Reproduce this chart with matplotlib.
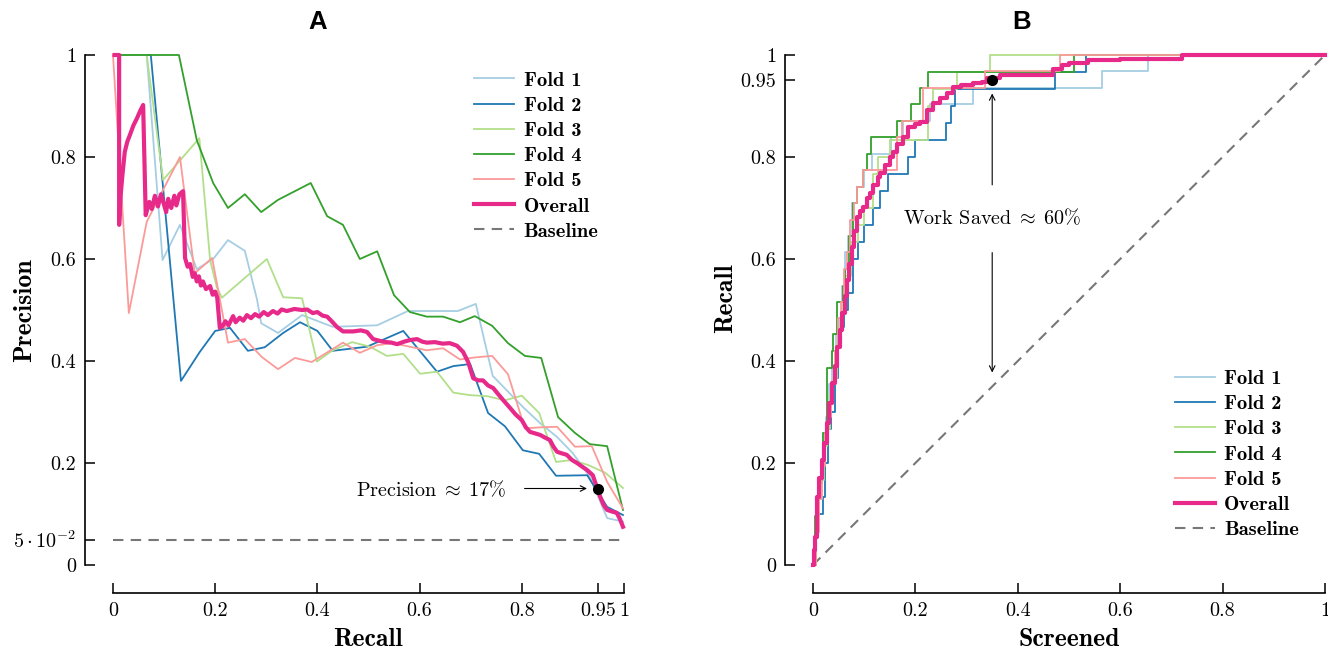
import matplotlib
matplotlib.use("Agg")
import matplotlib.pyplot as plt
from matplotlib.font_manager import FontProperties

plt.rcParams['font.family'] = 'cmr10'
plt.rcParams['mathtext.fontset'] = 'cm'
plt.rcParams['axes.unicode_minus'] = False

# ---- panel A: precision / recall per fold ----
fold1_a_r = [0.01, 0.066, 0.097, 0.131, 0.164, 0.196, 0.225, 0.258, 0.282, 0.29, 0.323, 0.37, 0.43, 0.517, 0.577, 0.675, 0.71, 0.743, 0.773, 0.802, 0.836, 0.869, 0.90, 0.933, 0.967, 0.998]
fold1_a_p = [1.0, 1.0, 0.598, 0.667, 0.58, 0.60, 0.637, 0.616, 0.52, 0.474, 0.455, 0.49, 0.467, 0.47, 0.498, 0.498, 0.512, 0.371, 0.34, 0.31, 0.278, 0.251, 0.219, 0.173, 0.092, 0.085]

fold2_a_r = [0.01, 0.074, 0.133, 0.17, 0.2, 0.229, 0.264, 0.297, 0.333, 0.366, 0.4, 0.43, 0.497, 0.568, 0.634, 0.666, 0.699, 0.734, 0.767, 0.802, 0.834, 0.867, 0.928, 0.967, 0.998]
fold2_a_p = [1.0, 1.0, 0.361, 0.418, 0.459, 0.465, 0.42, 0.427, 0.455, 0.476, 0.459, 0.42, 0.428, 0.459, 0.379, 0.39, 0.394, 0.298, 0.272, 0.225, 0.218, 0.175, 0.176, 0.114, 0.098]

fold3_a_r = [0.01, 0.066, 0.098, 0.169, 0.19, 0.203, 0.213, 0.301, 0.333, 0.37, 0.399, 0.43, 0.468, 0.503, 0.536, 0.568, 0.601, 0.634, 0.666, 0.699, 0.732, 0.767, 0.80, 0.834, 0.867, 0.898, 0.93, 0.963, 0.998]
fold3_a_p = [1.0, 1.0, 0.755, 0.837, 0.598, 0.545, 0.524, 0.60, 0.525, 0.523, 0.399, 0.421, 0.437, 0.428, 0.41, 0.414, 0.375, 0.379, 0.338, 0.333, 0.331, 0.323, 0.332, 0.298, 0.202, 0.206, 0.196, 0.181, 0.151]

fold4_a_r = [0.01, 0.129, 0.164, 0.196, 0.225, 0.258, 0.290, 0.323, 0.387, 0.419, 0.450, 0.483, 0.517, 0.550, 0.581, 0.614, 0.646, 0.679, 0.708, 0.742, 0.773, 0.806, 0.838, 0.871, 0.904, 0.933, 0.967, 0.998]
fold4_a_p = [1.0, 1.0, 0.833, 0.749, 0.70, 0.727, 0.692, 0.716, 0.749, 0.684, 0.667, 0.60, 0.615, 0.529, 0.496, 0.487, 0.487, 0.476, 0.488, 0.469, 0.435, 0.41, 0.406, 0.29, 0.259, 0.237, 0.233, 0.108]

fold5_a_r = [0.0, 0.031, 0.066, 0.131, 0.16, 0.194, 0.225, 0.258, 0.291, 0.323, 0.356, 0.389, 0.421, 0.45, 0.483, 0.517, 0.548, 0.581, 0.614, 0.646, 0.679, 0.708, 0.742, 0.773, 0.806, 0.838, 0.869, 0.904, 0.937, 0.967, 0.998]
fold5_a_p = [1.0, 0.494, 0.673, 0.80, 0.572, 0.602, 0.436, 0.443, 0.408, 0.384, 0.406, 0.398, 0.418, 0.436, 0.416, 0.431, 0.435, 0.428, 0.421, 0.425, 0.403, 0.407, 0.41, 0.374, 0.268, 0.27, 0.271, 0.232, 0.233, 0.163, 0.111]

overall_a_r = [0.003, 0.012, 0.012, 0.015, 0.018, 0.023, 0.028, 0.033, 0.040, 0.047, 0.053, 0.059, 0.064, 0.071, 0.076,
               0.082, 0.088, 0.094, 0.100, 0.104, 0.108, 0.114, 0.120, 0.124, 0.130, 0.137, 0.141, 0.146, 0.151, 0.156,
               0.160, 0.164, 0.168, 0.172, 0.176, 0.182, 0.190, 0.195, 0.200, 0.204, 0.209, 0.214, 0.220, 0.226, 0.235,
               0.240, 0.248, 0.255, 0.262, 0.270, 0.278, 0.286, 0.295, 0.303, 0.313, 0.322, 0.330, 0.340, 0.355, 0.370,
               0.380, 0.391, 0.400, 0.410, 0.419, 0.428, 0.438, 0.450, 0.470, 0.485, 0.497, 0.509, 0.520, 0.528, 0.545,
               0.556, 0.570, 0.581, 0.595, 0.605, 0.614, 0.630, 0.645, 0.659, 0.673, 0.685, 0.695, 0.705, 0.715, 0.724,
               0.734, 0.744, 0.753, 0.763, 0.770, 0.777, 0.788, 0.800, 0.808, 0.816, 0.826, 0.836, 0.845, 0.855, 0.862,
               0.869, 0.878, 0.888, 0.898, 0.908, 0.918, 0.928, 0.939, 0.946, 0.953, 0.960, 0.967, 0.976, 0.986, 0.992,
               0.998]
overall_a_p = [1.0, 1.0, 0.667, 0.725, 0.76, 0.81, 0.830, 0.843, 0.862, 0.876, 0.890, 0.902, 0.686, 0.712, 0.698,
               0.724, 0.703, 0.727, 0.706, 0.692, 0.718, 0.700, 0.724, 0.705, 0.727, 0.733, 0.602, 0.585, 0.590, 0.565,
               0.572, 0.556, 0.566, 0.548, 0.556, 0.541, 0.547, 0.530, 0.536, 0.524, 0.465, 0.468, 0.478, 0.470, 0.488,
               0.476, 0.485, 0.479, 0.490, 0.484, 0.492, 0.487, 0.496, 0.490, 0.498, 0.493, 0.501, 0.498, 0.502, 0.500,
               0.501, 0.494, 0.496, 0.489, 0.487, 0.478, 0.467, 0.458, 0.458, 0.460, 0.457, 0.443, 0.440, 0.438, 0.436,
               0.433, 0.438, 0.441, 0.443, 0.438, 0.436, 0.437, 0.434, 0.435, 0.430, 0.418, 0.398, 0.366, 0.362, 0.362,
               0.352, 0.347, 0.336, 0.324, 0.316, 0.308, 0.295, 0.284, 0.270, 0.261, 0.258, 0.255, 0.250, 0.245, 0.232,
               0.222, 0.219, 0.216, 0.206, 0.200, 0.193, 0.186, 0.176, 0.155, 0.135, 0.118, 0.108, 0.105, 0.102, 0.090,
               0.075]

baseline_precision = 0.05
point_a = (0.95, 0.15)

# ---- panel B: recall / screened per fold (step curves) ----
fold1_b_x = [0.000, 0.004, 0.009, 0.015, 0.020, 0.026, 0.032, 0.038, 0.044, 0.050, 0.056, 0.062, 0.068, 0.076, 0.086, 0.100, 0.115, 0.152, 0.176, 0.210, 0.228, 0.268, 0.313, 0.564, 0.654, 1.000]
fold1_b_y = [0.000, 0.065, 0.129, 0.194, 0.258, 0.290, 0.355, 0.419, 0.452, 0.484, 0.548, 0.613, 0.645, 0.710, 0.742, 0.774, 0.806, 0.839, 0.871, 0.871, 0.903, 0.903, 0.935, 0.968, 1.000, 1.000]

fold2_b_x = [0.000, 0.006, 0.020, 0.024, 0.030, 0.036, 0.042, 0.048, 0.054, 0.060, 0.068, 0.078, 0.088, 0.100, 0.117, 0.131, 0.146, 0.186, 0.199, 0.260, 0.270, 0.277, 0.473, 0.533, 1.000]
fold2_b_y = [0.000, 0.100, 0.133, 0.200, 0.267, 0.300, 0.367, 0.433, 0.467, 0.500, 0.533, 0.600, 0.633, 0.667, 0.700, 0.733, 0.767, 0.800, 0.833, 0.867, 0.900, 0.933, 0.967, 1.000, 1.000]

fold3_b_x = [0.000, 0.005, 0.010, 0.016, 0.022, 0.028, 0.034, 0.040, 0.046, 0.052, 0.058, 0.063, 0.075, 0.088, 0.100, 0.117, 0.127, 0.150, 0.225, 0.235, 0.281, 0.346, 1.000]
fold3_b_y = [0.000, 0.067, 0.133, 0.167, 0.233, 0.267, 0.333, 0.367, 0.433, 0.467, 0.533, 0.567, 0.633, 0.667, 0.700, 0.767, 0.800, 0.833, 0.900, 0.933, 0.967, 1.000, 1.000]

fold4_b_x = [0.000, 0.004, 0.010, 0.017, 0.020, 0.027, 0.037, 0.039, 0.047, 0.059, 0.063, 0.071, 0.078, 0.086, 0.098, 0.105, 0.113, 0.164, 0.191, 0.209, 0.225, 0.510, 1.000]
fold4_b_y = [0.000, 0.097, 0.161, 0.194, 0.258, 0.387, 0.419, 0.452, 0.516, 0.548, 0.581, 0.645, 0.710, 0.742, 0.774, 0.806, 0.839, 0.871, 0.904, 0.935, 0.967, 1.000, 1.000]

fold5_b_x = [0.000, 0.005, 0.012, 0.018, 0.024, 0.030, 0.036, 0.042, 0.048, 0.054, 0.060, 0.066, 0.072, 0.080, 0.086, 0.098, 0.164, 0.174, 0.215, 0.336, 0.482, 1.000]
fold5_b_y = [0.000, 0.065, 0.129, 0.194, 0.258, 0.290, 0.355, 0.419, 0.484, 0.516, 0.581, 0.613, 0.677, 0.710, 0.742, 0.774, 0.839, 0.871, 0.935, 0.968, 1.000, 1.000]

overall_b_x = [0.0, 0.002, 0.004, 0.007, 0.012, 0.017, 0.022, 0.027, 0.032, 0.037, 0.042, 0.047, 0.052, 0.057, 0.062,
               0.066, 0.071, 0.076, 0.081, 0.086, 0.092, 0.098, 0.105, 0.111, 0.118, 0.127, 0.131, 0.140, 0.150, 0.157,
               0.165, 0.176, 0.186, 0.200, 0.209, 0.222, 0.234, 0.248, 0.262, 0.273, 0.290, 0.313, 0.330, 0.340, 0.365,
               0.469, 0.486, 0.500, 0.537, 0.600, 0.720, 1.0]
overall_b_y = [0.0, 0.030, 0.055, 0.134, 0.170, 0.205, 0.240, 0.278, 0.318, 0.356, 0.390, 0.428, 0.460, 0.494, 0.527,
               0.559, 0.590, 0.624, 0.655, 0.683, 0.695, 0.702, 0.720, 0.729, 0.745, 0.761, 0.768, 0.785, 0.800, 0.810,
               0.825, 0.839, 0.859, 0.865, 0.869, 0.892, 0.906, 0.915, 0.925, 0.937, 0.941, 0.945, 0.947, 0.955, 0.961,
               0.973, 0.980, 0.985, 0.990, 0.992, 1.0, 1.0]

point_b = (0.35, 0.95)

fold_labels = ['Fold 1', 'Fold 2', 'Fold 3', 'Fold 4', 'Fold 5']
fold_colors = ['#a6cee3', '#1f78b4', '#b2df8a', '#33a02c', '#fb9a99']
overall_color = '#e7298a'
base_color = '#777777'

fig = plt.figure(figsize=(13.28, 6.51), dpi=100)
axA = fig.add_axes([113 / 1328, 86 / 651, 511 / 1328, 510 / 651])
axB = fig.add_axes([813 / 1328, 86 / 651, 512 / 1328, 510 / 651])

legend_font = FontProperties(family='cmb10', size=14.8)
label_font = FontProperties(family='cmb10', size=18.5)


def style_axes(ax, xticks, xlabels, yticks, ylabels):
    ax.set_xlim(0, 1)
    ax.set_ylim(0, 1)
    for s in ['top', 'right']:
        ax.spines[s].set_visible(False)
    for s in ['left', 'bottom']:
        ax.spines[s].set_position(('outward', 20))
        ax.spines[s].set_bounds(0, 1)
        ax.spines[s].set_linewidth(1.2)
    ax.set_xticks(xticks)
    ax.set_xticklabels(xlabels)
    ax.set_yticks(yticks)
    ax.set_yticklabels(ylabels)
    ax.tick_params(direction='in', length=7, width=1.1, labelsize=14.5, pad=6.5)


fold_a = [(fold1_a_r, fold1_a_p), (fold2_a_r, fold2_a_p), (fold3_a_r, fold3_a_p),
          (fold4_a_r, fold4_a_p), (fold5_a_r, fold5_a_p)]
for (r, p), lab, c in zip(fold_a, fold_labels, fold_colors):
    axA.plot(r, p, color=c, lw=1.3, label=lab, clip_on=False)
axA.plot(overall_a_r, overall_a_p, color=overall_color, lw=3, label='Overall', clip_on=False, zorder=4)
axA.plot([0, 1], [baseline_precision, baseline_precision], color=base_color, lw=1.5,
         dashes=(5, 3.5), label='Baseline')
axA.plot(*point_a, 'o', color='black', ms=7, zorder=6, clip_on=False)
axA.annotate('', xy=(0.933, 0.15), xytext=(0.80, 0.15),
             arrowprops=dict(arrowstyle='->', color='black', lw=0.8))
axA.text(0.622, 0.148, r'Precision$\;\approx\;$17%', ha='center', va='center', fontsize=14.5)

style_axes(axA, [0, 0.2, 0.4, 0.6, 0.8, 0.95, 1], ['0', '0.2', '0.4', '0.6', '0.8', '0.95', '1'],
           [0, 0.05, 0.2, 0.4, 0.6, 0.8, 1], ['0', r'$5\cdot10^{-2}$', '0.2', '0.4', '0.6', '0.8', '1'])
axA.legend(loc='center left', bbox_to_anchor=(0.707, 0.802), frameon=False, prop=legend_font,
           handlelength=1.95, handletextpad=0.45, labelspacing=0.33, borderpad=0, borderaxespad=0)

fold_b = [(fold1_b_x, fold1_b_y), (fold2_b_x, fold2_b_y), (fold3_b_x, fold3_b_y),
          (fold4_b_x, fold4_b_y), (fold5_b_x, fold5_b_y)]
axB.plot([0, 1], [0, 1], color=base_color, lw=1.5, dashes=(5, 3.5), zorder=1)
for (x, y), lab, c in zip(fold_b, fold_labels, fold_colors):
    axB.plot(x, y, color=c, lw=1.3, label=lab, drawstyle='steps-post', clip_on=False)
axB.plot(overall_b_x, overall_b_y, color=overall_color, lw=3, label='Overall',
         drawstyle='steps-post', clip_on=False, zorder=4)
axB.plot([], [], color=base_color, lw=1.5, dashes=(5, 3.5), label='Baseline')
axB.plot(*point_b, 'o', color='black', ms=7, zorder=6, clip_on=False)
axB.annotate('', xy=(0.35, 0.93), xytext=(0.35, 0.74),
             arrowprops=dict(arrowstyle='->', color='black', lw=0.8))
axB.annotate('', xy=(0.35, 0.372), xytext=(0.35, 0.618),
             arrowprops=dict(arrowstyle='->', color='black', lw=0.8))
axB.text(0.35, 0.68, r'Work Saved$\;\approx\;$60%', ha='center', va='center', fontsize=14.5)

style_axes(axB, [0, 0.2, 0.4, 0.6, 0.8, 1], ['0', '0.2', '0.4', '0.6', '0.8', '1'],
           [0, 0.2, 0.4, 0.6, 0.8, 0.95, 1], ['0', '0.2', '0.4', '0.6', '0.8', '0.95', '1'])
axB.legend(loc='center left', bbox_to_anchor=(0.707, 0.217), frameon=False, prop=legend_font,
           handlelength=1.95, handletextpad=0.45, labelspacing=0.33, borderpad=0, borderaxespad=0)

# titles and axis labels
fig.text(318 / 1328, 1 - 22 / 651, 'A', ha='center', va='center', fontsize=18.5,
         fontweight='bold', family='Liberation Sans')
fig.text(1022 / 1328, 1 - 22 / 651, 'B', ha='center', va='center', fontsize=18.5,
         fontweight='bold', family='Liberation Sans')
fig.text(368 / 1328, 1 - 639 / 651, 'Recall', ha='center', va='center', fontproperties=label_font)
fig.text(1069 / 1328, 1 - 639 / 651, 'Screened', ha='center', va='center', fontproperties=label_font)
fig.text(25 / 1328, 1 - 310 / 651, 'Precision', ha='center', va='center', rotation=90, fontproperties=label_font)
fig.text(726 / 1328, 1 - 298 / 651, 'Recall', ha='center', va='center', rotation=90, fontproperties=label_font)

fig.savefig('out.png', dpi=100)
